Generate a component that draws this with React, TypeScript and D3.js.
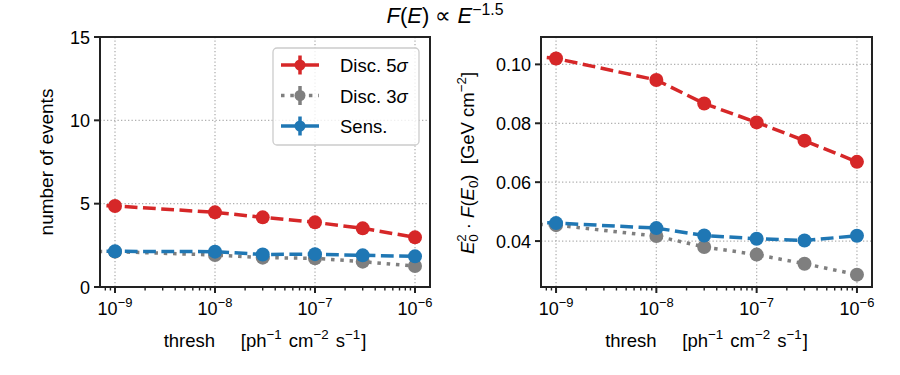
import React from 'react';
import * as d3 from 'd3';

// ---------------- data ----------------
const thresholds = [1e-10, 1e-9, 1e-8, 3e-8, 1e-7, 3e-7, 1e-6];
const eventsDisc5 = [5.1, 4.86, 4.48, 4.18, 3.88, 3.52, 2.98];
const eventsDisc3 = [2.2, 2.12, 1.92, 1.76, 1.72, 1.52, 1.26];
const eventsSens = [2.2, 2.14, 2.12, 1.95, 1.97, 1.9, 1.84];
const fluxDisc5 = [0.1055, 0.102, 0.0947, 0.0867, 0.0803, 0.0741, 0.0669];
const fluxDisc3 = [0.047, 0.0454, 0.0417, 0.038, 0.0354, 0.0323, 0.0286];
const fluxSens = [0.0475, 0.0461, 0.0444, 0.0419, 0.0408, 0.0402, 0.0418];
const xTickExps = [-9, -8, -7, -6];
const eventTicks = [0, 5, 10, 15];
const fluxTicks = [0.04, 0.06, 0.08, 0.1];
const seriesNames = ['Disc. 5', 'Disc. 3', 'Sens.'];

const FONT = '"Liberation Sans", Arial, sans-serif';
const FS = 18;
const COLORS = ['#d62728', '#7f7f7f', '#1f77b4'];
const DASHES = ['12.8,5.5', '3.5,5.8', '12.8,5.5'];
const LW = 3.5;

type Seg = { t: string; it?: boolean; sup?: boolean; sub?: boolean; dx?: number };

function MathText({ segs, fs, supRaise = 0.42, ...rest }: any) {
  let cur = 0;
  return (
    <text {...rest} fontSize={fs} fontFamily={FONT} style={{ whiteSpace: 'pre' }} fill="#000">
      {segs.map((s: Seg, i: number) => {
        const target = s.sup ? -supRaise * fs : s.sub ? 0.22 * fs : 0;
        const dy = target - cur;
        cur = target;
        return (
          <tspan
            key={i}
            dy={dy}
            dx={s.dx}
            fontStyle={s.it ? 'italic' : undefined}
            fontSize={s.sup || s.sub ? fs * 0.72 : fs}
          >
            {s.t}
          </tspan>
        );
      })}
    </text>
  );
}

const X_DOMAIN: [number, number] = [Math.pow(10, -9.15), Math.pow(10, -5.85)];

type Box = { x: number; y: number; w: number; h: number };

function Panel({
  id,
  box,
  yDomain,
  yTicks,
  fmt,
  values,
  legend,
}: {
  id: string;
  box: Box;
  yDomain: [number, number];
  yTicks: number[];
  fmt: (v: number) => string;
  values: number[][];
  legend: boolean;
}) {
  const xs = d3.scaleLog().domain(X_DOMAIN).range([box.x, box.x + box.w]);
  const ys = d3.scaleLinear().domain(yDomain).range([box.y + box.h, box.y]);
  const line = d3
    .line<number>()
    .x((_, i) => xs(thresholds[i]))
    .y((d) => ys(d));
  const minor: number[] = [];
  for (let e = -10; e <= -6; e++) {
    for (let m = 2; m <= 9; m++) {
      const v = m * Math.pow(10, e);
      if (v >= X_DOMAIN[0] && v <= X_DOMAIN[1]) minor.push(v);
    }
  }
  const bottom = box.y + box.h;
  const grid = { stroke: '#b0b0b0', strokeWidth: 1.3, strokeDasharray: '1.3,2.2' };
  return (
    <g>
      <defs>
        <clipPath id={id}>
          <rect x={box.x} y={box.y} width={box.w} height={box.h} />
        </clipPath>
      </defs>
      {xTickExps.map((e) => (
        <line key={'gx' + e} x1={xs(Math.pow(10, e))} x2={xs(Math.pow(10, e))} y1={box.y} y2={bottom} {...grid} />
      ))}
      {yTicks.map((t) => (
        <line key={'gy' + t} x1={box.x} x2={box.x + box.w} y1={ys(t)} y2={ys(t)} {...grid} />
      ))}
      <g clipPath={`url(#${id})`}>
        {values.map((vals, si) => (
          <g key={si}>
            <path
              d={line(vals) || ''}
              fill="none"
              stroke={COLORS[si]}
              strokeWidth={LW}
              strokeDasharray={DASHES[si]}
            />
            {vals.map((v, i) => (
              <circle key={i} cx={xs(thresholds[i])} cy={ys(v)} r={7} fill={COLORS[si]} />
            ))}
          </g>
        ))}
      </g>
      <rect x={box.x} y={box.y} width={box.w} height={box.h} fill="none" stroke="#222" strokeWidth={2} />
      {xTickExps.map((e) => {
        const x = xs(Math.pow(10, e));
        return (
          <g key={'xt' + e}>
            <line x1={x} x2={x} y1={bottom} y2={bottom + 6} stroke="#222" strokeWidth={2} />
            <MathText
              x={x}
              y={bottom + 28}
              fs={FS}
              textAnchor="middle"
              segs={[{ t: '10' }, { t: '\u2212' + Math.abs(e), sup: true }]}
            />
          </g>
        );
      })}
      {minor.map((v, i) => (
        <line key={'mt' + i} x1={xs(v)} x2={xs(v)} y1={bottom} y2={bottom + 3.5} stroke="#222" strokeWidth={1.4} />
      ))}
      {yTicks.map((t) => (
        <g key={'yt' + t}>
          <line x1={box.x - 6} x2={box.x} y1={ys(t)} y2={ys(t)} stroke="#222" strokeWidth={2} />
          <text
            x={box.x - 10}
            y={ys(t) + 6.5}
            textAnchor="end"
            fontSize={FS}
            fontFamily={FONT}
            fill="#000"
          >
            {fmt(t)}
          </text>
        </g>
      ))}
      <MathText
        x={box.x + box.w / 2}
        y={347}
        fs={FS + 0.5}
        textAnchor="middle"
        segs={[
          { t: 'thresh     [ph' },
          { t: '\u22121', sup: true },
          { t: ' cm', dx: 2 },
          { t: '\u22122', sup: true },
          { t: ' s', dx: 2 },
          { t: '\u22121', sup: true },
          { t: ']', dx: 1 },
        ]}
      />
      {legend && (
        <g>
          <rect x={273} y={48} width={146} height={97} rx={4} fill="#fff" fillOpacity={0.8} stroke="#cccccc" strokeWidth={1.3} />
          {seriesNames.map((n, i) => {
            const cy = 65 + i * 30.5;
            return (
              <g key={'lg' + i}>
                <line
                  x1={281}
                  x2={319}
                  y1={cy}
                  y2={cy}
                  stroke={COLORS[i]}
                  strokeWidth={LW}
                  strokeDasharray={i === 1 ? DASHES[1] : undefined}
                />
                <line x1={300} x2={300} y1={cy - 9.5} y2={cy + 9.5} stroke={COLORS[i]} strokeWidth={3.5} />
                <circle cx={300} cy={cy} r={5.5} fill={COLORS[i]} />
                <MathText
                  x={340}
                  y={cy + 7}
                  fs={FS + 0.5}
                  segs={i < 2 ? [{ t: n }, { t: '\u03c3', it: true }] : [{ t: n }]}
                />
              </g>
            );
          })}
        </g>
      )}
    </g>
  );
}

export default function App() {
  const left: Box = { x: 100, y: 37, w: 330, h: 250 };
  const right: Box = { x: 541, y: 37, w: 331, h: 250 };
  return (
    <svg width={900} height={375} style={{ position: 'absolute', left: 0, top: 0, background: '#fff' }}>
      <rect x={0} y={0} width={900} height={375} fill="#fff" />
      <MathText
        x={445}
        y={23}
        fs={22}
        supRaise={0.36}
        textAnchor="middle"
        segs={[
          { t: 'F', it: true },
          { t: '(' },
          { t: 'E', it: true },
          { t: ') \u221d ' },
          { t: 'E', it: true },
          { t: '\u22121.5', sup: true },
        ]}
      />
      <Panel
        id="clipL"
        box={left}
        yDomain={[0, 15]}
        yTicks={eventTicks}
        fmt={(v) => String(v)}
        values={[eventsDisc5, eventsDisc3, eventsSens]}
        legend={true}
      />
      <Panel
        id="clipR"
        box={right}
        yDomain={[0.0244, 0.1093]}
        yTicks={fluxTicks}
        fmt={(v) => v.toFixed(2)}
        values={[fluxDisc5, fluxDisc3, fluxSens]}
        legend={false}
      />
      <MathText
        transform="translate(53,162) rotate(-90)"
        x={0}
        y={0}
        fs={FS + 1}
        textAnchor="middle"
        segs={[{ t: 'number of events' }]}
      />
      <MathText
        transform="translate(474,163) rotate(-90)"
        x={0}
        y={0}
        fs={FS + 0.5}
        textAnchor="middle"
        segs={[
          { t: 'E', it: true },
          { t: '2', sup: true },
          { t: '0', sub: true, dx: -7.5 },
          { t: ' \u00b7 ' },
          { t: 'F', it: true },
          { t: '(' },
          { t: 'E', it: true },
          { t: '0', sub: true },
          { t: ')  [GeV cm' },
          { t: '\u22122', sup: true },
          { t: ']' },
        ]}
      />
    </svg>
  );
}
